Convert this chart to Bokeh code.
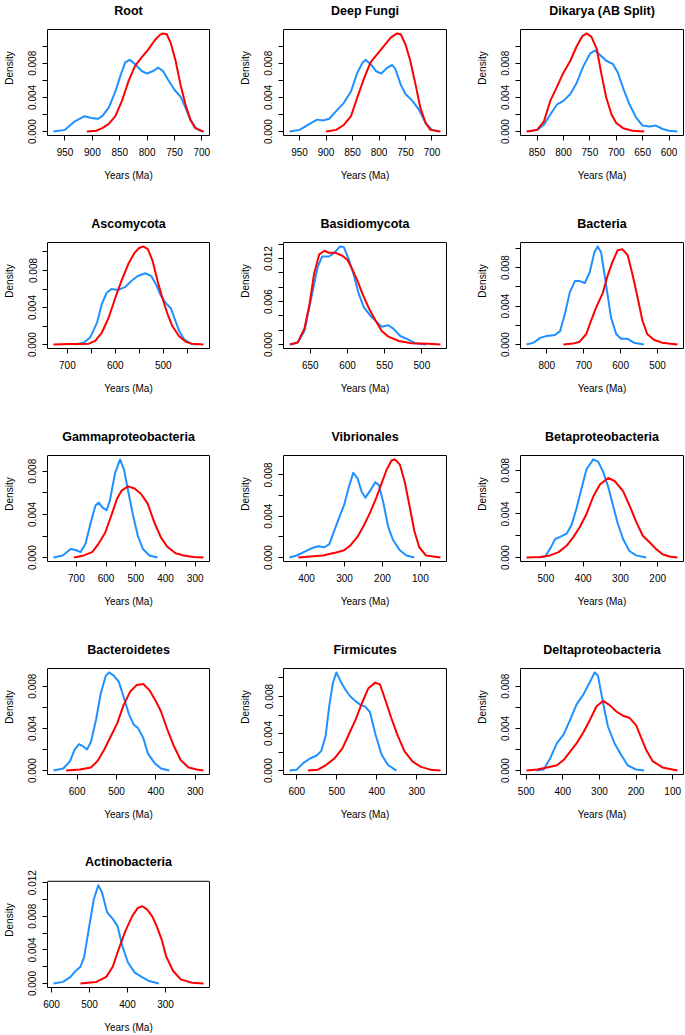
from bokeh.plotting import figure
from bokeh.layouts import column, row
from bokeh.models import Range1d, FixedTicker, Label, LinearAxis
from bokeh.embed import file_html
from bokeh.resources import INLINE

FONT = "Liberation Sans"
BLUE = "#1E90FF"
RED = "#FF0000"

# ---------------- data ----------------
titles = ["Root", "Deep Fungi", "Dikarya (AB Split)", "Ascomycota", "Basidiomycota",
          "Bacteria", "Gammaproteobacteria", "Vibrionales", "Betaproteobacteria",
          "Bacteroidetes", "Firmicutes", "Deltaproteobacteria", "Actinobacteria"]

root_blue_x = [971, 950, 932, 914, 902, 890, 882, 870, 858, 849, 840, 832, 822, 810, 800, 789, 780, 771, 762, 750, 738, 730, 721, 712, 703, 697]
root_blue_y = [0, 0.0002, 0.0012, 0.0018, 0.0016, 0.0015, 0.0018, 0.0028, 0.0047, 0.0065, 0.0081, 0.0084, 0.0079, 0.0071, 0.0068, 0.0071, 0.0075, 0.0071, 0.0061, 0.0049, 0.0040, 0.0028, 0.0014, 0.0005, 0.0001, 0]
root_red_x = [910, 893, 882, 870, 858, 846, 834, 822, 810, 798, 786, 777, 771, 764, 757, 748, 739, 730, 721, 712, 697]
root_red_y = [0, 0.0001, 0.0004, 0.0009, 0.0018, 0.0036, 0.0059, 0.0077, 0.0087, 0.0096, 0.0107, 0.0113, 0.0115, 0.0114, 0.0104, 0.0083, 0.0055, 0.0032, 0.0014, 0.0004, 0]

fungi_blue_x = [969, 950, 931, 917, 906, 894, 881, 866, 853, 841, 831, 825, 816, 806, 796, 784, 775, 769, 759, 750, 737, 725, 712, 700, 687]
fungi_blue_y = [0, 0.0002, 0.0009, 0.0014, 0.0013, 0.0015, 0.0024, 0.0034, 0.0047, 0.0069, 0.0081, 0.0084, 0.0079, 0.0071, 0.0068, 0.0075, 0.0078, 0.0073, 0.0055, 0.0044, 0.0036, 0.0026, 0.0010, 0.0002, 0]
fungi_red_x = [900, 881, 866, 853, 841, 828, 816, 803, 791, 778, 766, 759, 750, 741, 731, 722, 712, 703, 684]
fungi_red_y = [0, 0.0002, 0.0008, 0.0018, 0.0040, 0.0063, 0.0081, 0.0091, 0.0100, 0.0110, 0.0115, 0.0114, 0.0102, 0.0083, 0.0055, 0.0028, 0.0010, 0.0002, 0]

dikarya_blue_x = [866, 850, 837, 825, 812, 800, 787, 775, 762, 750, 741, 731, 719, 706, 697, 687, 675, 662, 650, 637, 625, 612, 600, 584]
dikarya_blue_y = [0, 0.0002, 0.0008, 0.0020, 0.0032, 0.0036, 0.0044, 0.0057, 0.0077, 0.0091, 0.0095, 0.0090, 0.0083, 0.0079, 0.0069, 0.0051, 0.0032, 0.0016, 0.0007, 0.0006, 0.0007, 0.0003, 0.0001, 0]
dikarya_red_x = [870, 850, 837, 825, 812, 800, 787, 775, 764, 756, 747, 737, 728, 719, 709, 700, 687, 669, 647]
dikarya_red_y = [0, 0.0002, 0.0012, 0.0036, 0.0053, 0.0069, 0.0083, 0.0100, 0.0112, 0.0115, 0.0111, 0.0097, 0.0067, 0.0040, 0.0020, 0.0010, 0.0004, 0.0001, 0]

asco_blue_x = [684, 666, 652, 638, 628, 618, 608, 594, 580, 566, 553, 537, 525, 515, 505, 495, 484, 477, 467, 457, 443, 429]
asco_blue_y = [0, 0.0002, 0.0008, 0.0024, 0.0044, 0.0056, 0.0060, 0.0059, 0.0062, 0.0069, 0.0074, 0.0077, 0.0074, 0.0065, 0.0053, 0.0045, 0.0039, 0.0029, 0.0015, 0.0006, 0.0001, 0]
asco_red_x = [729, 697, 676, 655, 642, 628, 614, 601, 587, 573, 560, 551, 542, 532, 522, 512, 501, 491, 481, 467, 453, 440, 416]
asco_red_y = [0, 0.00005, 0.00005, 0.0001, 0.0004, 0.0013, 0.0029, 0.0049, 0.0069, 0.0087, 0.0099, 0.0104, 0.0106, 0.0103, 0.0090, 0.0069, 0.0049, 0.0033, 0.0020, 0.0009, 0.0003, 0.0001, 0]

basidio_blue_x = [678, 667, 658, 649, 640, 634, 625, 618, 610, 605, 598, 591, 585, 578, 569, 560, 554, 545, 538, 529, 520, 509, 494]
basidio_blue_y = [0, 0.0003, 0.0019, 0.0064, 0.0109, 0.0123, 0.0123, 0.0128, 0.0137, 0.0136, 0.0118, 0.0095, 0.0071, 0.0052, 0.0040, 0.0031, 0.0025, 0.0027, 0.0022, 0.0012, 0.0008, 0.0002, 0]
basidio_red_x = [677, 667, 658, 651, 645, 638, 631, 625, 616, 607, 600, 594, 587, 580, 571, 562, 554, 545, 531, 514, 491, 475]
basidio_red_y = [0, 0.0003, 0.0022, 0.0057, 0.0099, 0.0126, 0.0131, 0.0128, 0.0128, 0.0124, 0.0118, 0.0106, 0.0090, 0.0071, 0.0050, 0.0033, 0.0019, 0.0011, 0.0005, 0.0002, 0.0001, 0]

bact_blue_x = [855, 836, 818, 800, 778, 764, 751, 738, 724, 711, 697, 684, 671, 662, 653, 639, 626, 612, 599, 581, 564, 537]
bact_blue_y = [0, 0.0002, 0.0007, 0.0009, 0.0010, 0.0014, 0.0032, 0.0054, 0.0066, 0.0066, 0.0064, 0.0075, 0.0096, 0.0102, 0.0096, 0.0061, 0.0028, 0.0011, 0.0006, 0.0006, 0.0002, 0]
bact_red_x = [755, 729, 711, 693, 680, 666, 648, 635, 621, 608, 595, 581, 568, 554, 541, 528, 510, 488, 446]
bact_red_y = [0, 0.0001, 0.0003, 0.0011, 0.0025, 0.0039, 0.0054, 0.0072, 0.0087, 0.0098, 0.0099, 0.0093, 0.0073, 0.0049, 0.0025, 0.0011, 0.0005, 0.0002, 0]

gamma_blue_x = [777, 746, 719, 702, 686, 669, 653, 636, 625, 611, 598, 587, 570, 553, 539, 526, 509, 493, 476, 454, 427]
gamma_blue_y = [0, 0.0002, 0.0008, 0.0007, 0.0005, 0.0013, 0.0031, 0.0048, 0.0051, 0.0046, 0.0044, 0.0053, 0.0078, 0.0091, 0.0081, 0.0062, 0.0039, 0.0020, 0.0008, 0.0002, 0]
gamma_red_x = [708, 675, 647, 625, 603, 581, 564, 548, 526, 504, 482, 460, 438, 416, 394, 366, 339, 306, 272]
gamma_red_y = [0, 0.0002, 0.0005, 0.0013, 0.0023, 0.0040, 0.0054, 0.0062, 0.0066, 0.0064, 0.0059, 0.0050, 0.0033, 0.0019, 0.0010, 0.0004, 0.0002, 0.00005, 0]

vibrio_blue_x = [445, 426, 409, 387, 370, 353, 340, 327, 314, 301, 288, 277, 266, 255, 245, 232, 219, 209, 197, 185, 172, 154, 137, 116]
vibrio_blue_y = [0, 0.0002, 0.0005, 0.0009, 0.0011, 0.0010, 0.0013, 0.0026, 0.0039, 0.0051, 0.0069, 0.0082, 0.0077, 0.0064, 0.0058, 0.0065, 0.0073, 0.0070, 0.0052, 0.0030, 0.0017, 0.0007, 0.0002, 0]
vibrio_red_x = [422, 391, 357, 322, 301, 284, 266, 249, 232, 215, 202, 189, 176, 167, 154, 141, 128, 116, 103, 85, 47]
vibrio_red_y = [0, 0.0001, 0.0002, 0.0005, 0.0007, 0.0012, 0.0020, 0.0031, 0.0044, 0.0059, 0.0072, 0.0085, 0.0094, 0.0095, 0.0090, 0.0073, 0.0049, 0.0026, 0.0010, 0.0002, 0]

beta_blue_x = [520, 502, 489, 475, 462, 444, 431, 418, 404, 391, 373, 360, 347, 333, 320, 307, 293, 276, 258, 231]
beta_blue_y = [0, 0.0001, 0.0008, 0.0017, 0.0019, 0.0022, 0.0030, 0.0045, 0.0064, 0.0081, 0.0090, 0.0088, 0.0079, 0.0065, 0.0048, 0.0031, 0.0017, 0.0006, 0.0002, 0]
beta_red_x = [552, 515, 489, 466, 444, 426, 409, 391, 373, 355, 333, 315, 293, 276, 258, 240, 222, 205, 187, 169, 147]
beta_red_y = [0, 0.00005, 0.0002, 0.0005, 0.0011, 0.0019, 0.0028, 0.0040, 0.0056, 0.0067, 0.0073, 0.0070, 0.0061, 0.0048, 0.0033, 0.0020, 0.0014, 0.0008, 0.0003, 0.0001, 0]

bactero_blue_x = [660, 635, 618, 606, 595, 585, 575, 565, 552, 540, 527, 519, 507, 494, 482, 469, 457, 445, 432, 420, 403, 387, 366]
bactero_blue_y = [0, 0.0002, 0.0009, 0.0020, 0.0025, 0.0023, 0.0020, 0.0027, 0.0048, 0.0073, 0.0090, 0.0093, 0.0090, 0.0084, 0.0070, 0.0054, 0.0044, 0.0040, 0.0031, 0.0016, 0.0007, 0.0002, 0]
bactero_red_x = [628, 593, 565, 548, 531, 515, 498, 482, 465, 449, 432, 416, 399, 387, 370, 354, 337, 317, 296, 279]
bactero_red_y = [0, 0.0001, 0.0003, 0.0009, 0.0020, 0.0032, 0.0045, 0.0062, 0.0075, 0.0081, 0.0082, 0.0076, 0.0065, 0.0056, 0.0038, 0.0023, 0.0010, 0.0003, 0.0001, 0]

firmi_blue_x = [618, 600, 584, 567, 551, 539, 528, 519, 510, 501, 490, 478, 466, 453, 441, 429, 417, 404, 388, 372, 351]
firmi_blue_y = [0, 0.0001, 0.0008, 0.0013, 0.0016, 0.0021, 0.0037, 0.0069, 0.0094, 0.0106, 0.0096, 0.0087, 0.0080, 0.0075, 0.0071, 0.0069, 0.0063, 0.0040, 0.0017, 0.0006, 0]
firmi_red_x = [572, 547, 527, 506, 486, 470, 453, 437, 421, 404, 392, 380, 364, 347, 331, 311, 290, 266, 241]
firmi_red_y = [0, 0.0001, 0.0006, 0.0013, 0.0024, 0.0039, 0.0055, 0.0073, 0.0089, 0.0095, 0.0093, 0.0078, 0.0057, 0.0037, 0.0021, 0.0010, 0.0004, 0.0001, 0]

delta_blue_x = [472, 452, 434, 416, 398, 380, 362, 344, 326, 313, 304, 290, 277, 259, 241, 223, 200, 178]
delta_blue_y = [0, 0.0001, 0.0012, 0.0026, 0.0034, 0.0048, 0.0063, 0.0072, 0.0084, 0.0093, 0.0090, 0.0064, 0.0042, 0.0026, 0.0015, 0.0005, 0.0001, 0]
delta_red_x = [499, 470, 443, 416, 398, 380, 362, 344, 326, 308, 290, 272, 254, 236, 218, 200, 187, 173, 155, 128, 87]
delta_red_y = [0, 0.0001, 0.0003, 0.0005, 0.0010, 0.0018, 0.0026, 0.0036, 0.0048, 0.0061, 0.0066, 0.0062, 0.0056, 0.0052, 0.0050, 0.0043, 0.0032, 0.0020, 0.0009, 0.0003, 0]

actino_blue_x = [595, 570, 550, 537, 524, 514, 502, 489, 477, 467, 454, 439, 426, 414, 399, 381, 363, 343, 318]
actino_blue_y = [0, 0.0002, 0.0008, 0.0015, 0.0020, 0.0032, 0.0065, 0.0100, 0.0117, 0.0108, 0.0085, 0.0077, 0.0068, 0.0045, 0.0025, 0.0013, 0.0008, 0.0003, 0]
actino_red_x = [524, 482, 456, 439, 424, 406, 388, 373, 361, 348, 335, 323, 310, 298, 280, 260, 230, 200]
actino_red_y = [0, 0.0002, 0.0008, 0.0020, 0.0040, 0.0062, 0.0080, 0.0090, 0.0092, 0.0088, 0.0080, 0.0068, 0.0052, 0.0032, 0.0015, 0.0005, 0.0001, 0]

# axis ticks (all tick marks, and which of them carry a label)
xticks_list = [
    [950, 900, 850, 800, 750, 700], [950, 900, 850, 800, 750, 700], [850, 800, 750, 700, 650, 600],
    [700, 650, 600, 550, 500, 450], [650, 600, 550, 500], [800, 700, 600, 500],
    [700, 600, 500, 400, 300], [400, 300, 200, 100], [500, 400, 300, 200],
    [600, 500, 400, 300], [600, 500, 400, 300], [500, 400, 300, 200, 100],
    [600, 500, 400, 300]]
xlabeled_list = [
    [950, 900, 850, 800, 750, 700], [950, 900, 850, 800, 750, 700], [850, 800, 750, 700, 650, 600],
    [700, 600, 500], [650, 600, 550, 500], [800, 700, 600, 500],
    [700, 600, 500, 400, 300], [400, 300, 200, 100], [500, 400, 300, 200],
    [600, 500, 400, 300], [600, 500, 400, 300], [500, 400, 300, 200, 100],
    [600, 500, 400, 300]]
yt10 = [0.0, 0.002, 0.004, 0.006, 0.008, 0.01]
yt8 = [0.0, 0.002, 0.004, 0.006, 0.008]
yt12 = [0.0, 0.002, 0.004, 0.006, 0.008, 0.01, 0.012]
yt14 = [0.0, 0.002, 0.004, 0.006, 0.008, 0.01, 0.012, 0.014]
lab48 = [0.0, 0.004, 0.008]
yticks_list = [yt10, yt10, yt10, yt10, yt14, yt10, yt8, yt8, yt8, yt8, yt10, yt8, yt12]
ylabeled_list = [lab48, lab48, lab48, lab48, [0.0, 0.006, 0.012], lab48, lab48, lab48, lab48,
                 lab48, lab48, lab48, [0.0, 0.004, 0.008, 0.012]]

series = [
    (root_blue_x, root_blue_y, root_red_x, root_red_y),
    (fungi_blue_x, fungi_blue_y, fungi_red_x, fungi_red_y),
    (dikarya_blue_x, dikarya_blue_y, dikarya_red_x, dikarya_red_y),
    (asco_blue_x, asco_blue_y, asco_red_x, asco_red_y),
    (basidio_blue_x, basidio_blue_y, basidio_red_x, basidio_red_y),
    (bact_blue_x, bact_blue_y, bact_red_x, bact_red_y),
    (gamma_blue_x, gamma_blue_y, gamma_red_x, gamma_red_y),
    (vibrio_blue_x, vibrio_blue_y, vibrio_red_x, vibrio_red_y),
    (beta_blue_x, beta_blue_y, beta_red_x, beta_red_y),
    (bactero_blue_x, bactero_blue_y, bactero_red_x, bactero_red_y),
    (firmi_blue_x, firmi_blue_y, firmi_red_x, firmi_red_y),
    (delta_blue_x, delta_blue_y, delta_red_x, delta_red_y),
    (actino_blue_x, actino_blue_y, actino_red_x, actino_red_y),
]

# ---------------- layout ----------------
COL_W = [236, 237, 212]
COL_LEFT = [45, 46, 46]
COL_RIGHT = [27, 27, 2]
ROW_H = 213
LAST_H = 183
BOX_TOP = 29          # px from the top of a panel to the top of its plot box
TITLE_BASE = 10       # px from the top of a panel to the title baseline
BOTTOM = 78
LAST_BOTTOM = 47


def make_panel(i):
    bx, by, rx, ry = series[i]
    col = i % 3
    last = i >= 12
    xs = bx + rx
    ys = by + ry
    xmin, xmax = min(xs), max(xs)
    dx = (xmax - xmin) * 0.04
    ymax = max(ys)
    dy = ymax * 0.04
    h = LAST_H if last else ROW_H
    bottom = LAST_BOTTOM if last else BOTTOM
    frame_h = h - bottom                 # frame reaches the top of the panel
    y0, y1 = -dy, ymax + dy              # plot box limits (R-style 4% padding)
    per_px = (y1 - y0) / (frame_h - BOX_TOP)
    y_end = y1 + BOX_TOP * per_px        # room above the box for the title
    x_start, x_end = xmax + dx, xmin - dx

    p = figure(width=COL_W[col], height=h,
               x_range=Range1d(x_start, x_end), y_range=Range1d(y0, y_end),
               output_backend="svg", toolbar_location=None,
               min_border_left=COL_LEFT[col], min_border_right=COL_RIGHT[col],
               min_border_top=0, min_border_bottom=bottom)
    p.xgrid.visible = False
    p.ygrid.visible = False
    p.outline_line_color = None
    p.background_fill_color = "white"
    p.border_fill_color = "white"

    xt = xticks_list[i]
    yt = yticks_list[i]
    p.xaxis.ticker = FixedTicker(ticks=xt)
    p.xaxis.major_label_overrides = {t: (str(t) if t in xlabeled_list[i] else "") for t in xt}
    p.yaxis.ticker = FixedTicker(ticks=yt)
    p.yaxis.major_label_overrides = {t: (f"{t:.3f}" if t in ylabeled_list[i] else "") for t in yt}
    p.yaxis.major_label_orientation = "vertical"
    p.yaxis.bounds = (y0, y1)
    p.xaxis.axis_label = "Years (Ma)"
    p.yaxis.axis_label = "Density"
    for ax in (p.xaxis[0], p.yaxis[0]):
        ax.axis_line_color = "black"
        ax.major_tick_line_color = "black"
        ax.major_tick_in = 0
        ax.major_tick_out = 5
        ax.minor_tick_line_color = None
        ax.major_label_text_font = FONT
        ax.major_label_text_font_size = "10px"
        ax.major_label_text_color = "black"
        ax.axis_label_text_font = FONT
        ax.axis_label_text_font_size = "10px"
        ax.axis_label_text_font_style = "normal"
        ax.axis_label_text_color = "black"
    p.xaxis.major_label_standoff = 7
    p.xaxis.axis_label_standoff = 11
    p.yaxis.major_label_standoff = 6
    p.yaxis.axis_label_standoff = 11

    # right side of the plot box: a bare axis line
    p.add_layout(LinearAxis(bounds=(y0, y1), ticker=FixedTicker(ticks=[]),
                            axis_line_color="black", major_tick_line_color=None,
                            minor_tick_line_color=None), "right")
    # top side of the plot box
    p.segment(x0=[x_start], y0=[y1], x1=[x_end], y1=[y1], line_color="black", line_width=1)

    p.line(bx, by, line_color=BLUE, line_width=2, line_join="round")
    p.line(rx, ry, line_color=RED, line_width=2, line_join="round")

    # panel title, above the plot box
    p.add_layout(Label(x=(x_start + x_end) / 2, y=frame_h - TITLE_BASE, x_units="data", y_units="screen",
                       text=titles[i], text_align="center", text_baseline="alphabetic",
                       text_font=FONT, text_font_size="12.5px", text_font_style="bold",
                       text_color="black"))
    return p


panels = [make_panel(i) for i in range(13)]
layout = column(
    row(panels[0], panels[1], panels[2]),
    row(panels[3], panels[4], panels[5]),
    row(panels[6], panels[7], panels[8]),
    row(panels[9], panels[10], panels[11]),
    row(panels[12]),
)

open("out.html", "w").write(file_html(layout, INLINE))
